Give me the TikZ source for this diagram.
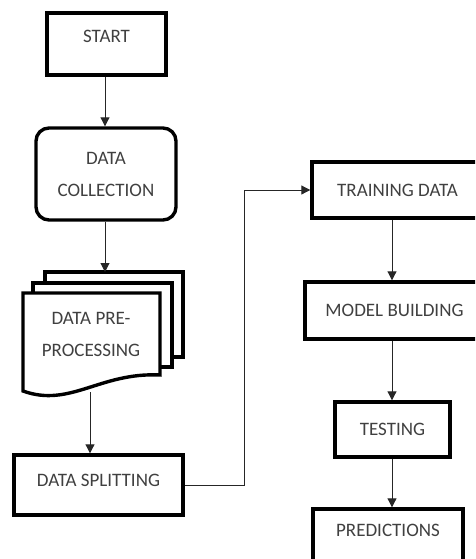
\documentclass[tikz,border=0pt]{standalone}
\usepackage{fontspec}
\setmainfont{Carlito}
\usetikzlibrary{arrows.meta}
\begin{document}
\begin{tikzpicture}[x=1pt,y=-1pt,
  every node/.style={font=\fontsize{19}{32}\selectfont, text=black!75, align=center},
  stepbox/.style={draw=black, line width=3.4pt, fill=white, inner sep=0pt},
  arr/.style={draw=black!85, line width=1pt, -{Triangle[length=9pt,width=9pt]}},
  page/.style={draw=black, line width=3.4pt, fill=white, line join=miter}
]
\useasboundingbox (0,0) rectangle (475,559);
\clip (0,0) rectangle (475,559);

% left column
\node[stepbox, minimum width=119pt, minimum height=62pt, text height=11pt, text depth=14pt] (start) at (106.5,44) {START};
\node[stepbox, rounded corners=13pt, minimum width=140pt, minimum height=92pt] (coll) at (106,174) {DATA\\COLLECTION};

% multi-document shape
\draw[page] (45,283) -- (45,272) -- (183,272) -- (183,357) -- (172,357);
\draw[page] (33,293) -- (33,283) -- (172,283) -- (172,367) -- (160,367);
\draw[page] (23,293) -- (160,293) -- (160,375)
  .. controls (100,372) and (70,408) .. (23,391) -- cycle;
\node (pre) at (91,334) {DATA PRE-\\PROCESSING};
\coordinate (preTop) at (105,272);
\coordinate (preBot) at (90,392);

\node[stepbox, minimum width=169pt, minimum height=60pt, text height=11pt, text depth=8pt] (split) at (98.5,485) {DATA SPLITTING};

% right column
\node[stepbox, minimum width=171pt, minimum height=56pt] (train) at (397.5,190) {TRAINING DATA};
\node[stepbox, minimum width=179pt, minimum height=57pt] (model) at (394.5,310.5) {MODEL BUILDING};
\node[stepbox, minimum width=115pt, minimum height=55pt] (test) at (392.5,429.5) {TESTING};
\node[stepbox, minimum width=150pt, minimum height=58pt, text height=11pt, text depth=14pt] (pred) at (388,538) {PREDICTIONS};

% connectors
\draw[arr] (start.south -| 105,0) -- (coll.north -| 105,0);
\draw[arr] (coll.south -| 105,0) -- (preTop);
\draw[arr] (preBot) -- (split.north -| 90,0);
\draw[arr] (split.east) -- (244,485) |- (train.west);
\draw[arr] (train.south -| 392,0) -- (model.north -| 392,0);
\draw[arr] (model.south -| 392,0) -- (test.north -| 392,0);
\draw[arr] (test.south -| 392,0) -- (pred.north -| 392,0);
\end{tikzpicture}
\end{document}
